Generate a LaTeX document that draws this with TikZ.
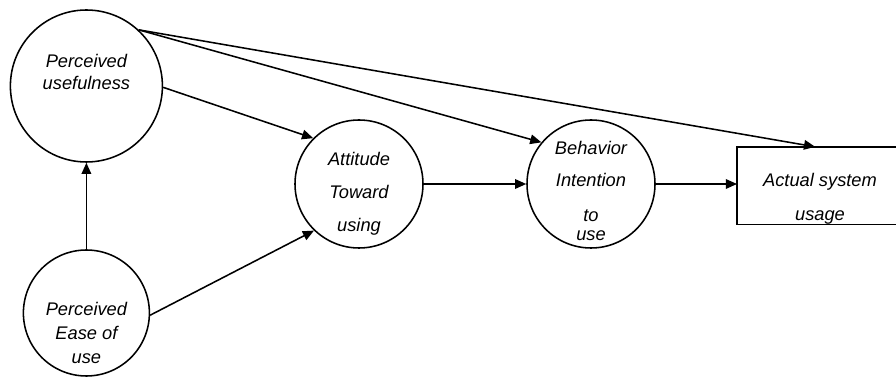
\documentclass[tikz,border=0pt]{standalone}
\usepackage{fontspec}
\setmainfont{Liberation Sans}
\usepackage{tikz}
\usetikzlibrary{positioning,arrows.meta,calc}

\begin{document}
\begin{tikzpicture}[
    construct/.style={draw,circle,line width=1.1pt,inner sep=0pt},
    words/.style={align=center,font=\fontsize{13}{15.6}\selectfont\itshape},
    link/.style={line width=1.1pt,-{Triangle[length=0.28cm,width=0.24cm]}}
]
    \useasboundingbox (0,0) rectangle (22.4,9.5);

    % Constructs (circles)
    \node[construct,minimum size=3.8cm] (pu) at (2.16,7.35) {};
    \node[words] (putext) at ([yshift=0.35cm]pu.center) {Perceived\\usefulness};

    \node[construct,minimum size=3.15cm] (peou) at (2.16,1.675) {};
    \node[words] (peoutext) at ([yshift=-0.5cm]peou.center) {Perceived\\[1.5pt]Ease of\\[1pt]use};

    \node[construct,minimum size=3.2cm] (att) at (8.975,4.9) {};
    \node[words] (atttext) at ([yshift=-0.25cm]att.center) {Attitude\\[8pt]Toward\\[8pt]using};

    \node[construct,minimum size=3.2cm] (bi) at (14.775,4.9) {};
    \node[words] (bitext) at ([yshift=-0.18cm]bi.center) {Behavior\\[7pt]Intention\\[9pt]to\\[-2pt]use};

    % Actual usage (box, runs off the right edge)
    \node[minimum width=6cm,minimum height=1.925cm,anchor=west] (act) at (18.425,4.86) {};
    \draw[line width=1.1pt] (act.north east) -- (act.north west) -- (act.south west) -- (act.south east);
    \node[words] (acttext) at (20.5,4.53) {Actual system\\[9pt]usage};

    % Paths
    \draw[link] (peou.north) -- (pu.south);
    \draw[link] (pu.-1) -- (att.135);
    \draw[link] (peou.-2) -- (att.226);
    \draw[link] (att.east) -- (bi.west);
    \draw[link] (bi.east) -- (bi.east -| act.west);
    \draw[link] (pu.47) -- (bi.140);
    \draw[link] (pu.47) -- ([xshift=-0.12cm]act.north -| acttext);
\end{tikzpicture}
\end{document}
